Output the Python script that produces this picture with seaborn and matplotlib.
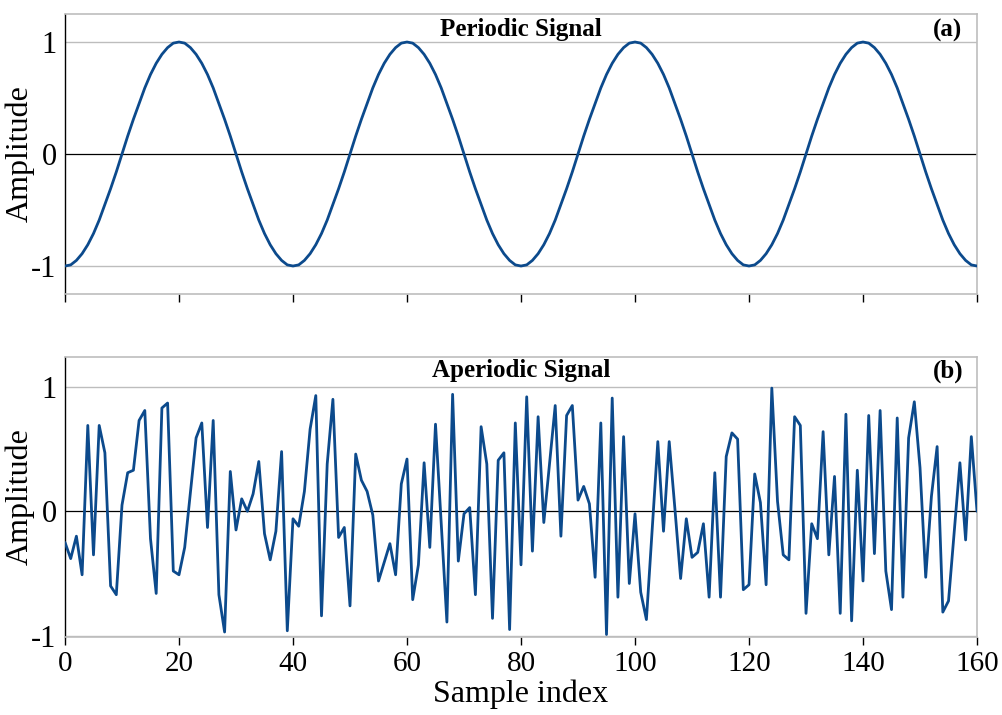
import matplotlib
matplotlib.use("Agg")
from matplotlib import pyplot as plt
import numpy as np
import pandas as pd
import seaborn as sns

# one period of the periodic signal (samples 0..39)
periodic_cycle = [-1.00, -0.99, -0.95, -0.89, -0.81, -0.71, -0.59, -0.45, -0.31, -0.16,
                  0.00, 0.16, 0.31, 0.45, 0.59, 0.71, 0.81, 0.89, 0.95, 0.99,
                  1.00, 0.99, 0.95, 0.89, 0.81, 0.71, 0.59, 0.45, 0.31, 0.16,
                  0.00, -0.16, -0.31, -0.45, -0.59, -0.71, -0.81, -0.89, -0.95, -0.99]
periodic_values = periodic_cycle * 4 + [-1.00]

aperiodic_values = [
    -0.25, -0.38, -0.20, -0.51, 0.69, -0.35, 0.69, 0.47, -0.60, -0.67,
    0.05, 0.31, 0.33, 0.73, 0.81, -0.22, -0.66, 0.83, 0.87, -0.48,
    -0.51, -0.29, 0.15, 0.59, 0.71, -0.13, 0.73, -0.67, -0.97, 0.32,
    -0.15, 0.10, 0.00, 0.14, 0.40, -0.18, -0.39, -0.16, 0.48, -0.96,
    -0.06, -0.12, 0.16, 0.66, 0.93, -0.84, 0.38, 0.90, -0.21, -0.13,
    -0.76, 0.46, 0.25, 0.16, -0.03, -0.56, -0.41, -0.26, -0.51, 0.22,
    0.42, -0.71, -0.43, 0.39, -0.29, 0.70, -0.10, -0.89, 0.94, -0.40,
    -0.02, 0.03, -0.67, 0.68, 0.38, -0.86, 0.41, 0.47, -0.95, 0.71,
    -0.43, 0.92, -0.32, 0.76, -0.09, 0.38, 0.85, -0.20, 0.77, 0.85,
    0.09, 0.20, 0.06, -0.53, 0.71, -0.99, 0.91, -0.69, 0.60, -0.58,
    -0.02, -0.65, -0.87, -0.16, 0.56, -0.16, 0.56, 0.02, -0.54, -0.06,
    -0.37, -0.33, -0.10, -0.69, 0.31, -0.69, 0.44, 0.63, 0.58, -0.63,
    -0.59, 0.30, 0.07, -0.59, 0.99, 0.08, -0.35, -0.39, 0.76, 0.69,
    -0.82, -0.10, -0.22, 0.64, -0.35, 0.28, -0.82, 0.78, -0.88, 0.33,
    -0.56, 0.77, -0.34, 0.81, -0.48, -0.79, 0.75, -0.69, 0.59, 0.88,
    0.35, -0.53, 0.12, 0.52, -0.81, -0.72, -0.17, 0.39, -0.23, 0.60,
    0.00,
]

sample_index = list(range(len(aperiodic_values)))
x_ticks = [0, 20, 40, 60, 80, 100, 120, 140, 160]
y_ticks = [-1, 0, 1]

sns.set_style("white")
plt.rcParams['font.family'] = ['Liberation Serif', 'DejaVu Serif']
plt.rcParams['axes.unicode_minus'] = False
for key in ['text.color', 'axes.labelcolor', 'xtick.color', 'ytick.color']:
    plt.rcParams[key] = 'black'

line_color = "#0c4a8c"
grid_color = "#bdbdbd"

df = pd.DataFrame({
    'Sample index': sample_index,
    'periodic': periodic_values,
    'aperiodic': aperiodic_values,
})

fig = plt.figure(figsize=(10.03, 7.15), dpi=100)
ax_top = fig.add_axes([0.0648, 0.5888, 0.9093, 0.3916])
ax_bot = fig.add_axes([0.0648, 0.1091, 0.9093, 0.3916])

panels = [
    (ax_top, 'periodic', 'Periodic Signal', '(a)', (-1.25, 1.25), 0.943),
    (ax_bot, 'aperiodic', 'Aperiodic Signal', '(b)', (-1.01, 1.24), 0.950),
]

for ax, col, title, tag, ylim, ty in panels:
    ax.axhline(1, color=grid_color, lw=1.0, zorder=1)
    ax.axhline(-1, color=grid_color, lw=1.0, zorder=1)
    ax.axhline(0, color='black', lw=0.9, zorder=1)
    sns.lineplot(data=df, x='Sample index', y=col, ax=ax, color=line_color,
                 lw=2.0, zorder=3)
    ax.set_xlim(0, 160)
    ax.set_ylim(*ylim)
    ax.set_xticks(x_ticks)
    ax.set_yticks(y_ticks)
    ax.set_yticklabels(['-1', '0', '1'])
    ax.set_ylabel('Amplitude', fontsize=23)
    ax.yaxis.set_label_coords(-0.033, 0.5)
    ax.tick_params(axis='y', length=0, labelsize=22, pad=6)
    ax.tick_params(axis='x', bottom=True, direction='out', length=6, width=1.0,
                   color='black', labelsize=21, pad=4)
    for side in ['top', 'right', 'bottom']:
        ax.spines[side].set_color(grid_color)
        ax.spines[side].set_linewidth(1.2)
    ax.spines['left'].set_color('black')
    ax.spines['left'].set_linewidth(1.0)
    ax.text(0.5, ty, title, transform=ax.transAxes, ha='center', va='center',
            fontsize=18, fontweight='bold')
    ax.text(0.968, ty, tag, transform=ax.transAxes, ha='center', va='center',
            fontsize=18, fontweight='bold')

ax_top.set_xlabel('')
ax_top.tick_params(axis='x', labelbottom=False)
ax_bot.set_xlabel('Sample index', fontsize=23, labelpad=2)

fig.savefig('out.png', dpi=100)
